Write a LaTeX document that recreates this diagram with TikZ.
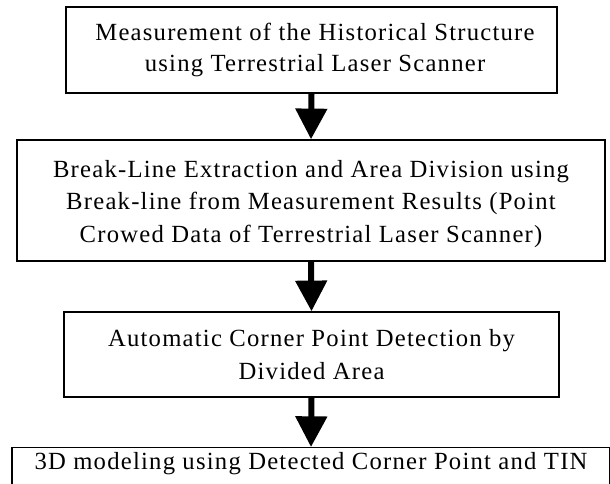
\documentclass[tikz,border=0pt]{standalone}
\usepackage{fontspec}
\setmainfont[LetterSpace=5]{Liberation Serif}
\usetikzlibrary{arrows.meta}
\begin{document}
\begin{tikzpicture}[x=0.75pt,y=-0.75pt,
  stepbox/.style={draw=black, line width=1.1pt, align=center, inner sep=0pt,
    font=\fontsize{18.5}{24.5}\selectfont},
  steptext/.style={align=center, inner sep=0pt, font=\fontsize{18.5}{24.5}\selectfont},
  flowarrow/.style={line width=4.5pt, -{Triangle[width=23pt,length=23pt]}}]
\useasboundingbox (0,0) rectangle (610,483);
\clip (0,0) rectangle (610,483);
\node[stepbox, minimum width=0.75*491pt, minimum height=0.75*86pt] (b1) at (311.5,50) {};
\node[steptext, font=\fontsize{18.5}{23}\selectfont] (t1) at (315,50)
  {Measurement of the Historical Structure\\ using Terrestrial Laser Scanner};
\node[stepbox, minimum width=0.75*588pt, minimum height=0.75*121pt] (b2) at (311,200.5) {};
\node[steptext] (t2) at (311,204)
  {Break-Line Extraction and Area Division using\\Break-line from Measurement Results (Point\\Crowed Data of Terrestrial Laser Scanner)};
\node[stepbox, minimum width=0.75*495pt, minimum height=0.75*85pt] (b3) at (311.5,354.5)
  {Automatic Corner Point Detection by\\Divided Area};
\node[stepbox, anchor=north, minimum width=0.75*598pt, inner ysep=3.5pt,
  text height=12.5pt, text depth=40pt] (b4) at (311,447)
  {3D modeling using Detected Corner Point and TIN};
\draw[flowarrow] (b1.south) -- (b2.north);
\draw[flowarrow] (b2.south) -- (b3.north);
\draw[flowarrow] (b3.south) -- (b4.north);
\end{tikzpicture}
\end{document}
